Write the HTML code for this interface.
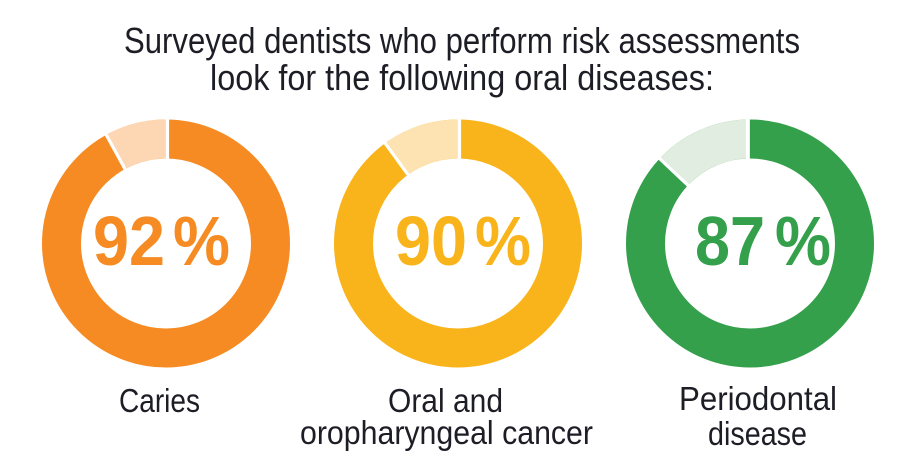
<!DOCTYPE html>
<html>
<head>
<meta charset="utf-8">
<style>
  html, body { margin:0; padding:0; background:#ffffff; }
  body { width:916px; height:474px; overflow:hidden; }
  svg { display:block; }
  .t { font-family:"Liberation Sans", sans-serif; fill:#1d1d26; }
  .p { font-family:"Liberation Sans", sans-serif; font-weight:bold; }
</style>
</head>
<body>
<svg width="916" height="474" viewBox="0 0 916 474" xmlns="http://www.w3.org/2000/svg">
  <rect width="916" height="474" fill="#ffffff"/>

  <!-- Title -->
  <text class="t" x="124" y="53" font-size="36" textLength="676" lengthAdjust="spacingAndGlyphs">Surveyed dentists who perform risk assessments</text>
  <text class="t" x="210" y="90" font-size="36" textLength="504" lengthAdjust="spacingAndGlyphs">look for the following oral diseases:</text>

  <!-- Donut 1: Caries 92% -->
  <circle cx="166" cy="243.5" r="104.5" fill="none" stroke="#F58B22" stroke-width="39"/>
  <path d="M115.65 151.93 A104.5 104.5 0 0 1 166 139" fill="none" stroke="#FDD6B3" stroke-width="39"/>
  <line x1="167.5" y1="117" x2="167.5" y2="161" stroke="#ffffff" stroke-width="3.2"/>
  <line x1="126.5" y1="171.7" x2="104.8" y2="132.2" stroke="#ffffff" stroke-width="3.2"/>
  <text class="p" x="93" y="265" font-size="70" fill="#F58B22" textLength="72" lengthAdjust="spacingAndGlyphs">92</text>
  <text class="p" x="173" y="265" font-size="70" fill="#F58B22" textLength="57" lengthAdjust="spacingAndGlyphs">%</text>

  <!-- Donut 2: Oral and oropharyngeal cancer 90% -->
  <circle cx="458" cy="243.5" r="104.5" fill="none" stroke="#F9B41B" stroke-width="39"/>
  <path d="M396.58 158.96 A104.5 104.5 0 0 1 458 139" fill="none" stroke="#FDE3B1" stroke-width="39"/>
  <line x1="459.5" y1="117" x2="459.5" y2="161" stroke="#ffffff" stroke-width="3.2"/>
  <line x1="409.8" y1="177.2" x2="383.3" y2="140.7" stroke="#ffffff" stroke-width="3.2"/>
  <text class="p" x="395" y="265" font-size="70" fill="#F9B41B" textLength="72" lengthAdjust="spacingAndGlyphs">90</text>
  <text class="p" x="475" y="265" font-size="70" fill="#F9B41B" textLength="56" lengthAdjust="spacingAndGlyphs">%</text>

  <!-- Donut 3: Periodontal disease 87% -->
  <circle cx="750" cy="243.5" r="104.5" fill="none" stroke="#34A04B" stroke-width="39"/>
  <path d="M673.82 171.97 A104.5 104.5 0 0 1 750 139" fill="none" stroke="#E1EDE0" stroke-width="39"/>
  <line x1="747.5" y1="117" x2="747.5" y2="161" stroke="#ffffff" stroke-width="3.2"/>
  <line x1="690.2" y1="187.4" x2="657.4" y2="156.5" stroke="#ffffff" stroke-width="3.2"/>
  <text class="p" x="695" y="265" font-size="70" fill="#34A04B" textLength="70" lengthAdjust="spacingAndGlyphs">87</text>
  <text class="p" x="775" y="265" font-size="70" fill="#34A04B" textLength="56" lengthAdjust="spacingAndGlyphs">%</text>

  <!-- Labels -->
  <text class="t" x="119" y="412" font-size="33" textLength="81" lengthAdjust="spacingAndGlyphs">Caries</text>
  <text class="t" x="388" y="412" font-size="33" textLength="115" lengthAdjust="spacingAndGlyphs">Oral and</text>
  <text class="t" x="300" y="444" font-size="33" textLength="293" lengthAdjust="spacingAndGlyphs">oropharyngeal cancer</text>
  <text class="t" x="679" y="410" font-size="33" textLength="158" lengthAdjust="spacingAndGlyphs">Periodontal</text>
  <text class="t" x="708" y="445" font-size="33" textLength="99" lengthAdjust="spacingAndGlyphs">disease</text>
</svg>
</body>
</html>
